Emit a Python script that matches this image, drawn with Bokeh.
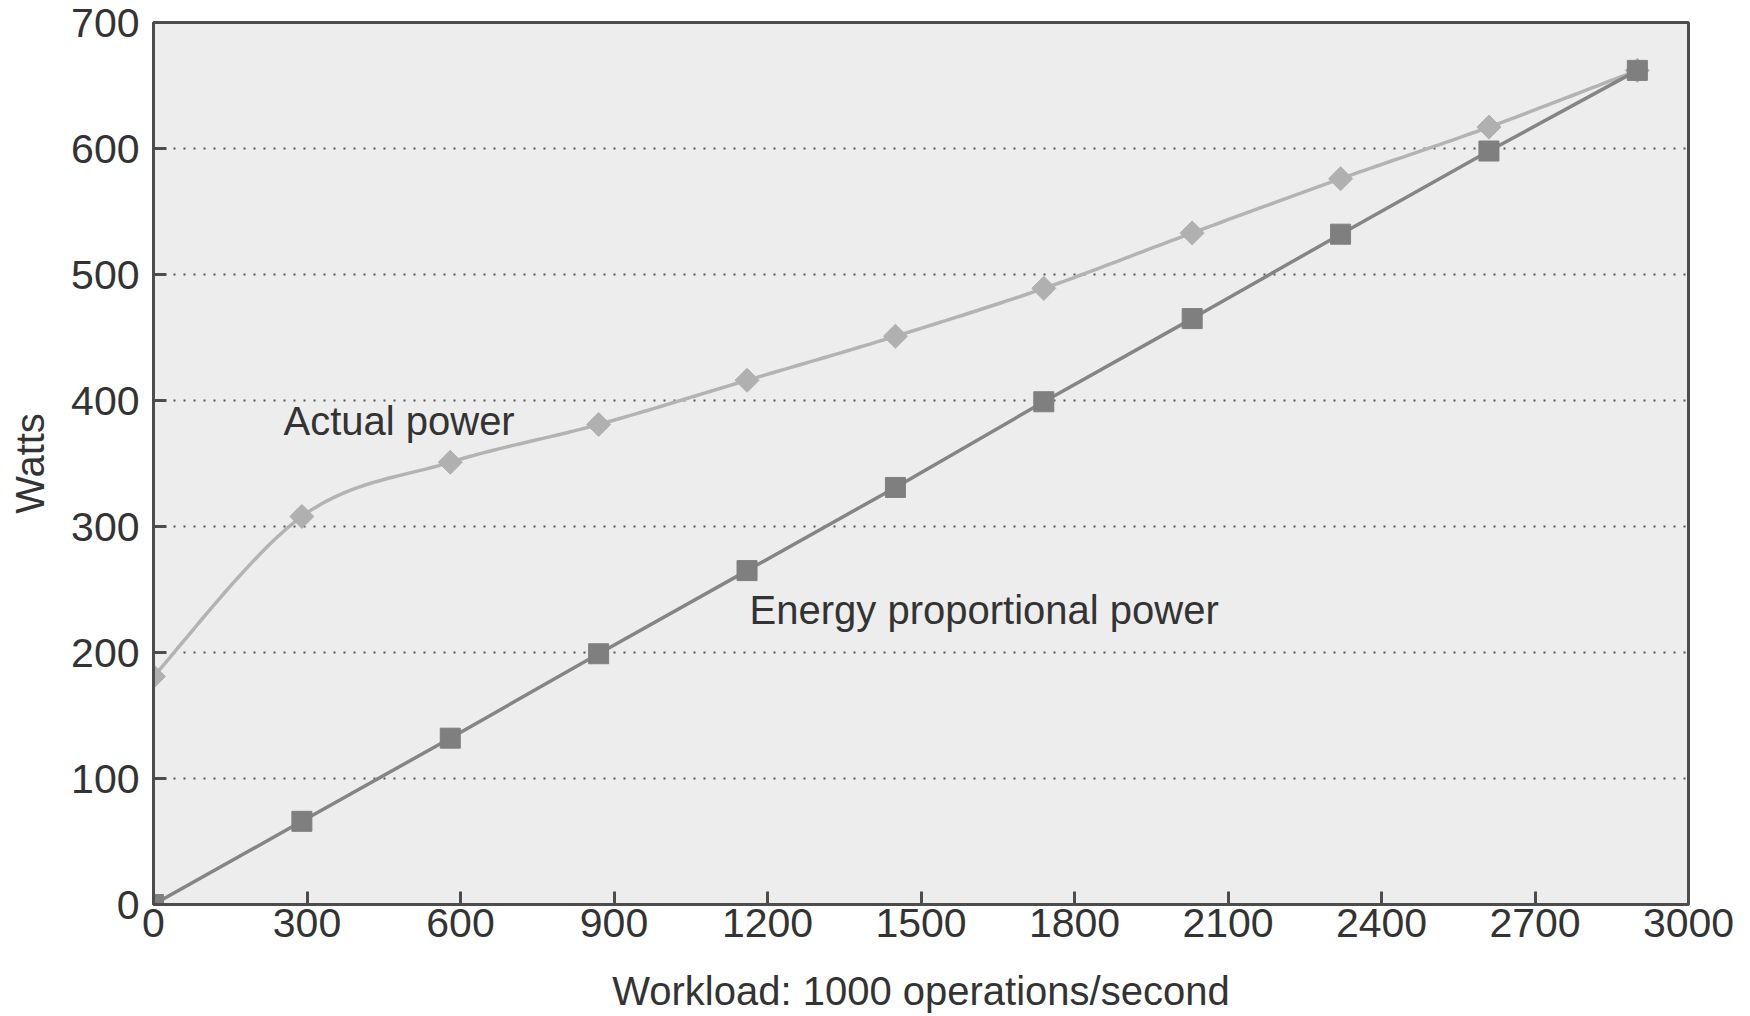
import numpy as np
from bokeh.plotting import figure
from bokeh.models import Range1d, FixedTicker, Label
from bokeh.embed import file_html
from bokeh.resources import INLINE

# ---- data ----
workload = [0, 290, 580, 870, 1160, 1450, 1740, 2030, 2320, 2610, 2900]
actual_power = [181, 308, 351, 381, 416, 451, 489, 533, 576, 617, 662]
proportional_power = [0, 66, 132, 199, 265, 331, 399, 465, 532, 598, 662]
x_ticks = [0, 300, 600, 900, 1200, 1500, 1800, 2100, 2400, 2700, 3000]
y_ticks = [0, 100, 200, 300, 400, 500, 600, 700]
grid_levels = [100, 200, 300, 400, 500, 600]
x_title = "Workload: 1000 operations/second"
y_title = "Watts"

FONT = "Liberation Sans"
TXT = "#333333"


def catmull_rom(xs, ys, n=24):
    """Smooth rendering path through the given points (uniform Catmull-Rom)."""
    P = np.column_stack([xs, ys]).astype(float)
    P = np.vstack([P[0], P, P[-1]])
    out = []
    t = np.linspace(0, 1, n, endpoint=False)
    for i in range(1, len(P) - 2):
        p0, p1, p2, p3 = P[i - 1], P[i], P[i + 1], P[i + 2]
        tt = t[:, None]
        seg = 0.5 * ((2 * p1) + (-p0 + p2) * tt + (2 * p0 - 5 * p1 + 4 * p2 - p3) * tt ** 2
                     + (-p0 + 3 * p1 - 3 * p2 + p3) * tt ** 3)
        out.append(seg)
    out.append(P[-2][None, :])
    out = np.vstack(out)
    return out[:, 0], out[:, 1]


p = figure(width=1742, height=1016, output_backend="svg", toolbar_location=None,
           x_range=Range1d(0, 3000), y_range=Range1d(0, 700),
           min_border_left=153, min_border_top=22, min_border_right=54, min_border_bottom=112)

p.background_fill_color = "#ededed"
p.border_fill_color = "white"
p.outline_line_color = "#4d4d4d"
p.outline_line_width = 3

p.xgrid.visible = False
p.ygrid.ticker = FixedTicker(ticks=grid_levels)
p.ygrid.grid_line_color = "#555555"
p.ygrid.grid_line_dash = "2 8"
p.ygrid.grid_line_width = 2

for ax in (p.xaxis[0], p.yaxis[0]):
    ax.axis_line_color = "#4d4d4d"
    ax.axis_line_width = 3
    ax.major_tick_line_color = "#4d4d4d"
    ax.major_tick_line_width = 3
    ax.major_tick_in = 13
    ax.major_tick_out = 0
    ax.minor_tick_line_color = None
    ax.major_label_text_font = FONT
    ax.major_label_text_font_size = "41px"
    ax.major_label_text_color = TXT
    ax.axis_label_text_font = FONT
    ax.axis_label_text_font_size = "40px"
    ax.axis_label_text_color = TXT
    ax.axis_label_text_font_style = "normal"

p.xaxis.ticker = FixedTicker(ticks=x_ticks)
p.yaxis.ticker = FixedTicker(ticks=y_ticks)
p.xaxis.axis_label = x_title
p.yaxis.axis_label = y_title
p.xaxis.major_label_standoff = 4
p.yaxis.major_label_standoff = 14
p.xaxis.axis_label_standoff = 29
p.yaxis.axis_label_standoff = 16

# Actual power (smooth light-gray line with diamonds)
sx, sy = catmull_rom(workload, actual_power)
p.line(sx, sy, line_color="#b3b3b3", line_width=3.5)
p.scatter(workload, actual_power, marker="square", angle=np.pi / 4, size=17,
          fill_color="#b0b0b0", line_color="#b0b0b0")

# Energy proportional power (darker straight line with squares)
p.line(workload, proportional_power, line_color="#858585", line_width=3.5)
p.scatter(workload, proportional_power, marker="square", size=20, fill_color="#7f7f7f",
          line_color="#7f7f7f")

p.add_layout(Label(x=254, y=384, text="Actual power", text_font=FONT,
                   text_font_size="40px", text_color=TXT, text_baseline="alphabetic"))
p.add_layout(Label(x=1165, y=234, text="Energy proportional power", text_font=FONT,
                   text_font_size="40px", text_color=TXT, text_baseline="alphabetic"))

open("out.html", "w").write(file_html(p, INLINE))
